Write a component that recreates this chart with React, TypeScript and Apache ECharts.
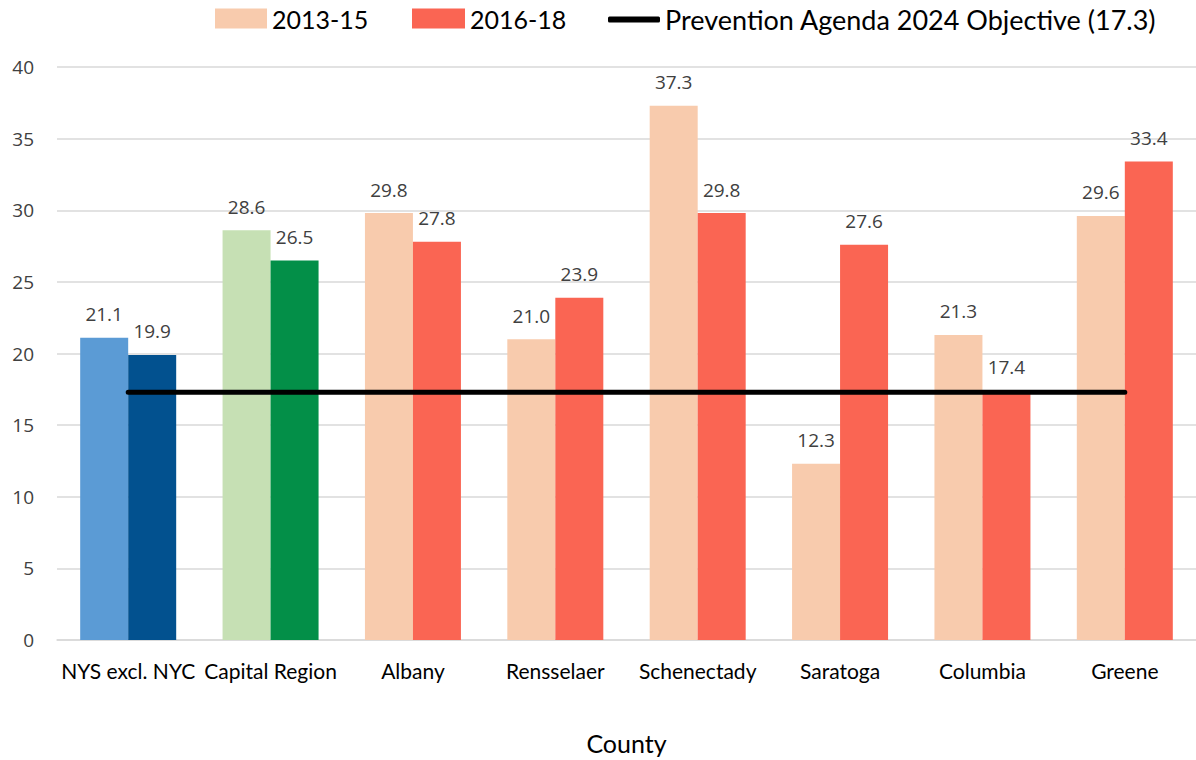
import React, { useEffect, useRef } from "react";
import * as echarts from "echarts";

const categories = ["NYS excl. NYC", "Capital Region", "Albany", "Rensselaer", "Schenectady", "Saratoga", "Columbia", "Greene"];
const values2013 = [21.1, 28.6, 29.8, 21.0, 37.3, 12.3, 21.3, 29.6];
const values2016 = [19.9, 26.5, 27.8, 23.9, 29.8, 27.6, 17.4, 33.4];
const objective = [17.3, 17.3, 17.3, 17.3, 17.3, 17.3, 17.3, 17.3];
const colors2013 = ["#5B9BD5", "#C6E0B4", "#F8CBAD", "#F8CBAD", "#F8CBAD", "#F8CBAD", "#F8CBAD", "#F8CBAD"];
const colors2016 = ["#02518F", "#038F48", "#FA6553", "#FA6553", "#FA6553", "#FA6553", "#FA6553", "#FA6553"];
const yTicks = [0, 5, 10, 15, 20, 25, 30, 35, 40];
const objectiveName = "Prevention Agenda 2024 Objective (17.3)";

export default function App() {
  const ref = useRef<HTMLDivElement>(null);
  useEffect(() => {
    document.body.style.margin = "0";
    const chart = echarts.init(ref.current!, null, { renderer: "svg" });
    const labelStyle = {
      show: true,
      position: "top" as const,
      distance: 14,
      fontFamily: "Open Sans",
      fontSize: 19,
      color: "#404040",
      formatter: (p: any) => Number(p.value).toFixed(1),
    };
    const legendText = { fontFamily: "Lato", fontSize: 25, color: "#000" };
    chart.setOption({
      animation: false,
      legend: [
        {
          left: 210, top: 1, itemWidth: 52, itemHeight: 20, itemGap: 0,
          textStyle: legendText,
          data: [{ name: "2013-15", icon: "rect", itemStyle: { color: "#F8CBAD" } }],
        },
        {
          left: 407, top: 1, itemWidth: 53, itemHeight: 20, itemGap: 0,
          textStyle: legendText,
          data: [{ name: "2016-18", icon: "rect", itemStyle: { color: "#FA6553" } }],
        },
        {
          left: 603, top: 1, itemWidth: 52, itemHeight: 6, itemGap: 0,
          textStyle: { ...legendText, fontSize: 27 },
          data: [{ name: objectiveName, icon: "roundRect", itemStyle: { color: "#000" } }],
        },
      ],
      grid: { left: 57, right: -2, top: 67, bottom: 119 },
      xAxis: {
        type: "category",
        data: categories,
        axisTick: { show: false },
        axisLine: { lineStyle: { color: "#D9D9D9", width: 1.5 } },
        axisLabel: { fontFamily: "Lato", fontSize: 21, color: "#000", margin: 20, interval: 0 },
        name: "County",
        nameLocation: "middle",
        nameGap: 90,
        nameTextStyle: { fontFamily: "Lato", fontSize: 25, color: "#000" },
      },
      yAxis: {
        type: "value",
        min: yTicks[0],
        max: yTicks[yTicks.length - 1],
        interval: 5,
        axisLabel: { fontFamily: "Open Sans", fontSize: 19, color: "#404040", margin: 23 },
        splitLine: { lineStyle: { color: "#D9D9D9", width: 1.5 } },
        axisLine: { show: false },
        axisTick: { show: false },
      },
      series: [
        {
          name: "2013-15",
          type: "bar",
          barWidth: 48,
          barGap: "0%",
          data: values2013.map((v, i) => ({ value: v, itemStyle: { color: colors2013[i] } })),
          label: labelStyle,
        },
        {
          name: "2016-18",
          type: "bar",
          barWidth: 48,
          barGap: "0%",
          data: values2016.map((v, i) => ({ value: v, itemStyle: { color: colors2016[i] } })),
          label: labelStyle,
        },
        {
          name: objectiveName,
          type: "line",
          data: objective,
          symbol: "none",
          itemStyle: { color: "#000" },
          lineStyle: { color: "#000", width: 5, cap: "round" },
          z: 5,
        },
      ],
    });
    return () => chart.dispose();
  }, []);
  return <div ref={ref} style={{ width: 1196, height: 760 }} />;
}
